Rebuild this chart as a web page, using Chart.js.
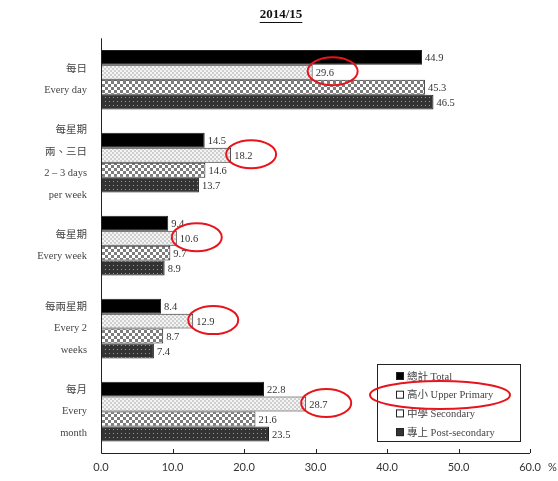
<!DOCTYPE html>
<html>
<head>
<meta charset="utf-8">
<script src="https://cdn.jsdelivr.net/npm/chart.js@4/dist/chart.umd.min.js"></script>
<style>
  html, body { margin: 0; padding: 0; background: #fff; }
  #wrap { width: 558px; height: 481px; }
</style>
</head>
<body>
<div id="wrap"><canvas id="chart" width="558" height="481"></canvas></div>
<script>
const categorias = [
    ['每日', 'Every day'],
    ['每星期', '兩、三日', '2 – 3 days', 'per week'],
    ['每星期', 'Every week'],
    ['每兩星期', 'Every 2', 'weeks'],
    ['每月', 'Every', 'month']
];
const nomes = ['總計 Total', '高小 Upper Primary', '中學 Secondary', '專上 Post-secondary'];
const total = [44.9, 14.5, 9.4, 8.4, 22.8];
const upperPrimary = [29.6, 18.2, 10.6, 12.9, 28.7];
const secondary = [45.3, 14.6, 9.7, 8.7, 21.6];
const postSecondary = [46.5, 13.7, 8.9, 7.4, 23.5];
const xTicks = [0, 10, 20, 30, 40, 50, 60];

const serif = '"Liberation Serif", "Noto Sans CJK TC", serif';

function padrao(size, draw) {
    const c = document.createElement('canvas');
    c.width = size; c.height = size;
    const g = c.getContext('2d');
    draw(g);
    return document.getElementById('chart').getContext('2d').createPattern(c, 'repeat');
}

const pUpper = padrao(4, g => {
    g.fillStyle = '#f4f4f4'; g.fillRect(0, 0, 4, 4);
    g.fillStyle = '#cfcfcf';
    g.fillRect(0, 0, 2, 2); g.fillRect(2, 2, 2, 2);
});
const pSec = padrao(6, g => {
    g.fillStyle = '#ffffff'; g.fillRect(0, 0, 6, 6);
    g.fillStyle = '#7c7c7c';
    g.fillRect(0, 0, 3, 3); g.fillRect(3, 3, 3, 3);
});
const pPost = padrao(4, g => {
    g.fillStyle = '#333333'; g.fillRect(0, 0, 4, 4);
    g.fillStyle = '#9a9a9a';
    g.fillRect(1, 1, 1, 1);
});

const fills = ['#000000', pUpper, pSec, pPost];
const series = [total, upperPrimary, secondary, postSecondary];

const datasets = series.map((d, i) => ({
    label: nomes[i],
    data: d,
    backgroundColor: fills[i],
    borderColor: '#222',
    borderWidth: 1,
    borderSkipped: false,
    barPercentage: 1,
    categoryPercentage: 0.72
}));

// titulo, eixos, rotulos, legenda e circulos vermelhos
const extras = {
    id: 'extras',
    afterDatasetsDraw(chart) {
        const ctx = chart.ctx;
        const x = chart.scales.x;
        const area = chart.chartArea;
        ctx.save();

        // titulo
        ctx.fillStyle = '#111';
        ctx.font = 'bold 13px ' + serif;
        ctx.textAlign = 'center';
        ctx.textBaseline = 'middle';
        ctx.fillText('2014/15', 281, 15);
        const tw = ctx.measureText('2014/15').width;
        ctx.fillRect(281 - tw / 2, 22, tw, 1);

        // eixos
        ctx.strokeStyle = '#222';
        ctx.lineWidth = 1;
        ctx.beginPath();
        ctx.moveTo(area.left + 0.5, area.top);
        ctx.lineTo(area.left + 0.5, area.bottom + 0.5);
        ctx.lineTo(area.right, area.bottom + 0.5);
        xTicks.forEach(v => {
            const px = Math.round(x.getPixelForValue(v)) + 0.5;
            ctx.moveTo(px, area.bottom);
            ctx.lineTo(px, area.bottom - 4);
        });
        ctx.stroke();

        ctx.fillStyle = '#333';
        ctx.font = '11px Lato';
        ctx.textAlign = 'left';
        ctx.fillText('%', area.right + 18, 467);

        // rotulos dos valores
        ctx.font = '10.5px ' + serif;
        ctx.textAlign = 'left';
        ctx.textBaseline = 'middle';
        chart.data.datasets.forEach((ds, i) => {
            chart.getDatasetMeta(i).data.forEach((bar, j) => {
                ctx.fillStyle = '#333';
                ctx.fillText(ds.data[j].toFixed(1), bar.x + 3, bar.y + 1);
            });
        });

        // circulos vermelhos em volta do Upper Primary
        ctx.strokeStyle = '#e8141b';
        ctx.lineWidth = 2;
        chart.getDatasetMeta(1).data.forEach(bar => {
            ctx.beginPath();
            ctx.ellipse(bar.x + 20, bar.y - 1, 25, 14, 0, 0, Math.PI * 2);
            ctx.stroke();
        });

        // legenda
        const lx = 377, ly = 364;
        ctx.fillStyle = '#fff';
        ctx.fillRect(lx, ly, 143, 77);
        ctx.strokeStyle = '#222';
        ctx.lineWidth = 1;
        ctx.strokeRect(lx + 0.5, ly + 0.5, 143, 77);
        ctx.font = '10.5px ' + serif;
        nomes.forEach((n, i) => {
            const iy = ly + 12 + i * 18.7;
            ctx.fillStyle = i === 0 ? '#000' : (i === 3 ? '#333' : '#fff');
            ctx.fillRect(lx + 19, iy - 4, 8, 8);
            ctx.strokeStyle = '#222';
            ctx.strokeRect(lx + 19.5, iy - 3.5, 7, 7);
            ctx.fillStyle = '#444';
            ctx.fillText(n, lx + 30, iy + 1);
        });
        ctx.strokeStyle = '#e8141b';
        ctx.lineWidth = 2;
        ctx.beginPath();
        ctx.ellipse(lx + 63, ly + 31, 70, 14, 0, 0, Math.PI * 2);
        ctx.stroke();

        ctx.restore();
    }
};

new Chart(document.getElementById('chart'), {
    type: 'bar',
    data: { labels: categorias, datasets: datasets },
    plugins: [extras],
    options: {
        indexAxis: 'y',
        responsive: false,
        animation: false,
        layout: { padding: { top: 36, right: 28, left: 0, bottom: 0 } },
        plugins: {
            legend: { display: false },
            tooltip: { enabled: false }
        },
        scales: {
            x: {
                min: 0,
                max: 60,
                afterBuildTicks: s => { s.ticks = xTicks.map(v => ({ value: v })); },
                afterFit: s => { s.height = 28; },
                border: { display: false },
                grid: { display: false },
                ticks: {
                    padding: 0,
                    color: '#333',
                    font: { family: 'Lato', size: 11 },
                    callback: v => v.toFixed(1)
                }
            },
            y: {
                afterFit: s => { s.width = 101; },
                border: { display: false },
                grid: { display: false },
                ticks: {
                    autoSkip: false,
                    padding: 6,
                    color: '#444',
                    font: { family: serif, size: 10.5, lineHeight: 2.05 }
                }
            }
        }
    }
});
</script>
</body>
</html>
